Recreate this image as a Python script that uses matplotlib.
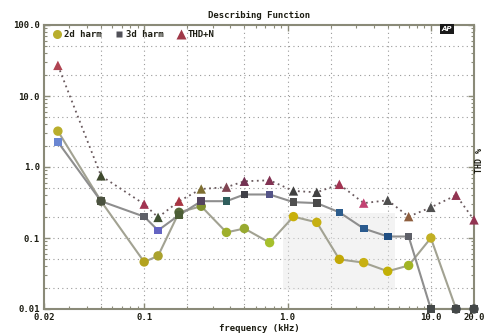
import matplotlib
matplotlib.use("Agg")
import matplotlib.pyplot as plt
from matplotlib.lines import Line2D
from matplotlib.patches import Rectangle
from matplotlib.ticker import FixedLocator, FixedFormatter, LogLocator, NullFormatter

# Describing-function sweep: distortion vs. frequency (kHz)
freq = [0.025, 0.05, 0.1, 0.125, 0.175, 0.25, 0.375, 0.5, 0.75, 1.1,
        1.6, 2.3, 3.4, 5.0, 7.0, 10.0, 15.0, 20.0]
harm2 = [3.2, 0.33, 0.046, 0.056, 0.23, 0.28, 0.12, 0.136, 0.086, 0.20,
         0.166, 0.050, 0.045, 0.034, 0.041, 0.10, 0.01, 0.01]
harm3 = [2.25, 0.33, 0.20, 0.128, 0.21, 0.33, 0.33, 0.41, 0.41, 0.32,
         0.31, 0.23, 0.136, 0.105, 0.105, 0.01, 0.01, 0.01]
thdn = [27.0, 0.75, 0.30, 0.195, 0.33, 0.49, 0.52, 0.63, 0.65, 0.46,
        0.44, 0.57, 0.31, 0.34, 0.20, 0.27, 0.40, 0.18]

series_names = ["2d harm", "3d harm", "THD+N"]

x_ticks = [0.02, 0.1, 1.0, 10.0, 20.0]
x_labels = ["0.02", "0.1", "1.0", "10.0", "20.0"]
y_ticks = [0.01, 0.1, 1.0, 10.0, 100.0]
y_labels = ["0.01", "0.1", "1.0", "10.0", "100.0"]

# marker tints of the printed trace points
c2 = ["#b9ae2c", "#4f5638", "#b3a21e", "#aaa22e", "#56683a", "#7f902e",
      "#9fb02c", "#98aa30", "#a6c02c", "#c8b00a", "#c6b012", "#c2a806",
      "#c8b012", "#c2b006", "#a2b424", "#c2b024", "#444848", "#444848"]
c3 = ["#6a86d2", "#4b5240", "#5e6068", "#6464c2", "#4c5e36", "#54445e",
      "#2f5e5c", "#404048", "#545488", "#505050", "#4a4a4a", "#2c5c8c",
      "#2a5a8e", "#204e82", "#5e6068", "#444848", "#444848", "#444848"]
ct = ["#b04452", "#3f4a2e", "#a23452", "#3f5030", "#a83442", "#7e6e30",
      "#804452", "#723252", "#823252", "#404040", "#424242", "#a23452",
      "#c24272", "#4e4e4e", "#8e5e3e", "#505050", "#923452", "#923452"]

mono = "DejaVu Sans Mono"
ink = "#1c1c12"
spine_col = "#8a8a78"

fig = plt.figure(figsize=(4.84, 3.35), dpi=100)
ax = fig.add_axes([44 / 484, 1 - 309 / 335, 430 / 484, 284 / 335])
ax.set_xscale("log")
ax.set_yscale("log")
ax.set_xlim(0.02, 20.0)
ax.set_ylim(0.01, 100.0)

# 1-2-5 dotted grid
for v in [0.05, 0.1, 0.2, 0.5, 1, 2, 5, 10]:
    ax.axvline(v, color="#9a9a9a", lw=0.8, ls=(0, (1, 3)), zorder=0)
for v in [0.02, 0.05, 0.1, 0.2, 0.5, 1, 2, 5, 10, 20, 50]:
    ax.axhline(v, color="#9a9a9a", lw=0.8, ls=(0, (1, 3)), zorder=0)

# faint smudge on the printed page
ax.add_patch(Rectangle((0.556, 0.067), 0.26, 0.27, transform=ax.transAxes,
                       facecolor="#e6e6e6", edgecolor="none", alpha=0.45, zorder=1))

# traces
ax.plot(freq, harm2, color="#a2a292", lw=1.5, zorder=2)
ax.plot(freq, harm3, color="#8e8e8e", lw=1.5, zorder=2)
ax.plot(freq, thdn, color="#6a5a5e", lw=1.3, ls=(0, (1, 2)), zorder=2)

ax.scatter(freq, harm2, s=46, marker="o", c=c2, edgecolors="none", zorder=4, clip_on=False)
ax.scatter(freq, harm3, s=30, marker="s", c=c3, edgecolors="none", zorder=4, clip_on=False)
ax.scatter(freq, thdn, s=46, marker="^", c=ct, edgecolors="none", zorder=4, clip_on=False)

# axes styling
for sp in ax.spines.values():
    sp.set_color(spine_col)
    sp.set_linewidth(1.5)
ax.xaxis.set_major_locator(FixedLocator(x_ticks))
ax.xaxis.set_major_formatter(FixedFormatter(x_labels))
ax.yaxis.set_major_locator(FixedLocator(y_ticks))
ax.yaxis.set_major_formatter(FixedFormatter(y_labels))
ax.xaxis.set_minor_locator(LogLocator(base=10, subs=range(2, 10)))
ax.yaxis.set_minor_locator(LogLocator(base=10, subs=range(2, 10)))
ax.xaxis.set_minor_formatter(NullFormatter())
ax.yaxis.set_minor_formatter(NullFormatter())
ax.tick_params(which="both", direction="in", top=True, right=True, color=spine_col)
ax.tick_params(which="major", length=4, width=1.0, labelsize=6.5, labelcolor=ink, pad=3)
ax.tick_params(which="minor", length=2.5, width=0.8)
for lab in ax.get_xticklabels() + ax.get_yticklabels():
    lab.set_family(mono)
    lab.set_weight("bold")

ax.set_title("Describing Function", fontsize=6.5, family=mono, weight="bold", color=ink, pad=5)
ax.set_xlabel("frequency (kHz)", fontsize=6.5, family=mono, weight="bold", color=ink, labelpad=1)
fig.text(0.999, 0.52, "THD %", rotation=90, fontsize=6, family=mono, weight="bold",
         color=ink, ha="right", va="center")

# legend row
handles = [
    Line2D([], [], ls="none", marker="o", ms=6.5, mfc="#b9ae2c", mec="none"),
    Line2D([], [], ls="none", marker="s", ms=4.5, mfc="#505058", mec="none"),
    Line2D([], [], ls="none", marker="^", ms=6.5, mfc="#a03848", mec="none"),
]
leg = ax.legend(handles, series_names, loc="upper left", ncol=3, frameon=False,
                bbox_to_anchor=(0.01, 1.0), handlelength=0.8, handletextpad=0.3,
                columnspacing=1.6, borderaxespad=0.2,
                prop={"family": mono, "weight": "bold", "size": 6.5})
for t in leg.get_texts():
    t.set_color(ink)

# maker's badge in the corner
fig.text(447 / 484, 1 - 29 / 335, "AP", fontsize=5, color="white", weight="bold",
         style="italic", ha="center", va="center",
         bbox=dict(facecolor="#1a1a1a", edgecolor="none", boxstyle="square,pad=0.25"))

fig.savefig("out.png", dpi=100)
